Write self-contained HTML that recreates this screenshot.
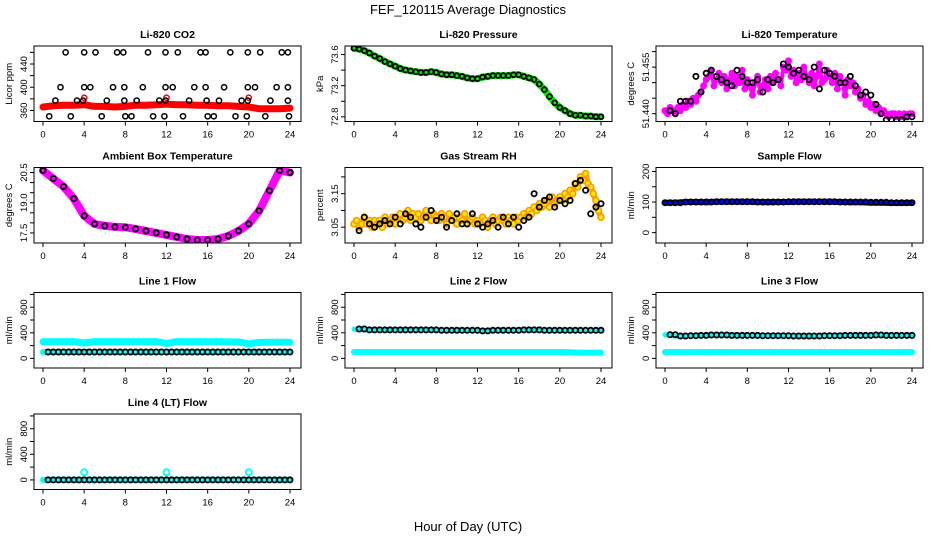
<!DOCTYPE html>
<html><head><meta charset="utf-8"><style>
html,body{margin:0;padding:0;background:#fff;}
svg{display:block;font-family:"Liberation Sans",Arial,sans-serif;}
</style></head><body>
<svg id="chart" width="936" height="540" viewBox="0 0 936 540" xmlns="http://www.w3.org/2000/svg">
<rect x="0" y="0" width="936" height="540" fill="#fff"/>
<text x="468" y="14" font-size="13" text-anchor="middle">FEF_120115  Average Diagnostics</text>
<text x="468" y="531" font-size="13" text-anchor="middle">Hour of Day (UTC)</text>
</svg>
<script>
// ---------- data ----------
const hourTicks = [0,4,8,12,16,20,24];

// Li-820 CO2
const co2Red = [366,368,369,369,370,367,367,366,367,369,369,370,371,370,370,369,369,368,368,367,366,363,363,363,364];
const co2SpikeHours = [4,12,20];
const co2SpikeVals = [382,382,382];
const co2BlackHours = [2.2,4.0,5.1,7.2,7.8,10.2,11.9,13.1,15.3,15.8,18.2,19.9,21.1,23.2,23.8,
  1.7,4.0,4.6,6.8,7.9,9.7,11.9,12.6,14.7,15.8,17.6,19.9,20.6,22.7,23.8,
  1.2,3.3,3.9,6.2,7.9,9.1,11.3,11.9,14.2,15.9,17.1,19.3,19.9,22.1,23.8,
  0.6,2.7,5.7,8.0,8.6,10.7,11.8,13.6,16.0,16.6,18.7,19.8,21.6,23.9];
const co2BlackVals = [460,460,460,460,460,460,460,460,460,460,460,460,460,460,460,
  400,400,400,400,400,400,400,400,400,400,400,400,400,400,400,
  377,377,377,377,377,377,377,377,377,377,377,377,377,377,377,
  350,350,350,350,350,350,350,350,350,350,350,350,350,350];

// Li-820 Pressure (0.5 h steps)
const pressure = [73.68,73.67,73.65,73.62,73.58,73.55,73.51,73.48,73.45,73.42,73.40,73.39,73.38,73.37,73.37,73.38,73.37,73.35,73.34,73.34,73.33,73.32,73.30,73.29,73.29,73.31,73.32,73.33,73.33,73.33,73.33,73.34,73.34,73.32,73.30,73.28,73.22,73.15,73.06,72.98,72.92,72.88,72.84,72.82,72.82,72.81,72.81,72.80,72.80];

// Li-820 Temperature (0.25 h steps)
const liTemp = [51.441,51.440,51.442,51.441,51.440,51.442,51.441,51.443,51.442,
 51.444,51.443,51.445,51.444,51.446,51.447,51.449,51.451,
 51.452,51.454,51.449,51.451,51.453,51.450,51.452,51.448,
 51.451,51.453,51.449,51.452,51.450,51.454,51.448,51.451,
 51.449,51.446,51.450,51.452,51.447,51.449,51.451,51.448,
 51.452,51.450,51.453,51.451,51.449,51.455,51.454,51.457,
 51.452,51.454,51.450,51.453,51.451,51.455,51.452,51.450,
 51.453,51.449,51.452,51.456,51.450,51.451,51.454,51.452,
 51.450,51.453,51.448,51.452,51.450,51.446,51.451,51.449,
 51.450,51.447,51.448,51.445,51.446,51.443,51.444,51.442,
 51.443,51.441,51.442,51.440,51.441,51.440,51.439,51.440,
 51.440,51.439,51.440,51.439,51.440,51.439,51.440,51.440];
const liTempBlack = [51.441,51.440,51.444,51.444,51.444,51.452,51.447,51.453,51.454,51.452,51.451,51.450,51.449,51.454,51.452,51.450,51.450,51.451,51.447,51.451,51.450,51.451,51.456,51.455,51.453,51.454,51.452,51.451,51.455,51.448,51.454,51.453,51.452,51.450,51.450,51.452,51.449,51.446,51.447,51.446,51.443,51.440,51.438,51.438,51.438,51.438,51.439,51.439];

// Ambient box temperature (hourly)
const ambient = [20.6,20.2,19.8,19.2,18.35,17.95,17.85,17.8,17.78,17.7,17.6,17.5,17.4,17.3,17.2,17.15,17.15,17.2,17.35,17.6,17.95,18.6,19.6,20.6,20.5];

// Gas stream RH (0.25 h steps)
const rh = [3.06,3.07,3.05,3.06,3.08,3.06,3.07,3.05,3.07,
 3.06,3.07,3.05,3.08,3.06,3.07,3.08,3.06,
 3.08,3.09,3.07,3.08,3.10,3.07,3.09,3.08,
 3.09,3.07,3.08,3.10,3.08,3.07,3.09,3.08,
 3.07,3.09,3.08,3.06,3.09,3.07,3.08,3.06,
 3.08,3.07,3.09,3.06,3.07,3.08,3.06,3.07,
 3.06,3.08,3.07,3.05,3.07,3.08,3.06,3.07,
 3.08,3.07,3.06,3.08,3.07,3.06,3.08,3.07,
 3.08,3.09,3.08,3.10,3.09,3.11,3.10,3.12,
 3.11,3.12,3.13,3.11,3.14,3.12,3.13,3.14,
 3.13,3.15,3.14,3.16,3.15,3.18,3.17,3.20,
 3.19,3.21,3.18,3.17,3.15,3.13,3.10,3.08];
const rhBlack = [3.04,3.08,3.06,3.05,3.06,3.07,3.06,3.08,3.06,3.09,3.08,3.06,3.05,3.08,3.10,3.07,3.08,3.05,3.07,3.09,3.06,3.06,3.09,3.06,3.05,3.06,3.07,3.05,3.08,3.06,3.08,3.05,3.07,3.08,3.15,3.11,3.13,3.14,3.11,3.13,3.12,3.13,3.18,3.19,3.16,3.09,3.11,3.12];

// Sample flow (hourly)
const sampleBlue = [98,98,100,100,99,101,101,101,101,100,99,100,100,101,101,101,101,100,99,99,98,98,97,97,98];
const sampleBlack = [98,98,100,100,100,101,101,101,101,100,100,100,101,101,101,101,101,100,100,100,99,99,98,98,98];

// Line flows (hourly)
const line1Cyan = [260,262,262,262,240,262,262,262,262,262,262,262,235,262,262,262,262,262,258,258,230,250,252,252,252];
const line1Black = [100,100,100,100,100,100,100,100,100,100,100,100,100,100,100,100,100,100,100,100,100,100,100,100,100];
const line2Cyan = [100,100,100,100,100,100,100,100,100,100,100,100,100,100,100,100,100,100,100,100,100,95,90,90,90];
const line2Black = [460,445,445,445,445,445,445,445,440,440,440,440,430,440,440,440,445,445,440,440,440,440,440,440,440];
const line3Cyan = [100,100,100,100,100,100,100,100,100,100,100,100,100,100,100,100,100,100,100,100,100,100,100,100,100];
const line3Black = [370,350,355,360,365,365,360,360,360,355,355,355,350,350,350,355,355,360,360,360,365,360,360,360,360];
const line4Cyan = [0,0,0,0,0,0,0,0,0,0,0,0,0,0,0,0,0,0,0,0,0,0,0,0,0];
const line4Black = [0,0,0,0,0,0,0,0,0,0,0,0,0,0,0,0,0,0,0,0,0,0,0,0,0];
const line4SpikeHours = [4,12,20];
const line4SpikeVals = [120,120,120];

// ---------- drawing ----------
const NS = "http://www.w3.org/2000/svg";
const svg = document.getElementById("chart");
const colLeft = [34,345,656], rowTop = [46,167.5,292.5,414];
const W = 267, H = 75.5;

function mk(tag, attrs, parent){
  const e = document.createElementNS(NS, tag);
  for (const k in attrs) e.setAttribute(k, attrs[k]);
  (parent||svg).appendChild(e);
  return e;
}

function panel(cfg){
  const L = colLeft[cfg.col], T = rowTop[cfg.row], B = T + H;
  const g = mk("g", {});
  
  
  const xs = h => L + 9 + h * (247/24);
  const ys = v => B - (v - cfg.ylim[0]) / (cfg.ylim[1] - cfg.ylim[0]) * H;
  const cid = "clip" + cfg.row + cfg.col;
  const cp = mk("clipPath", {id: cid}, g);
  mk("rect", {x: L, y: T, width: W, height: H}, cp);
  const plot = mk("g", {"clip-path": "url(#" + cid + ")"}, g);
  
  
  cfg.series.forEach(s => {
    const step = s.step;
    const hx = s.hours ? s.hours : s.vals.map((_, i) => (s.start || 0) + i * step);
    if (s.line) {
      const pts = s.vals.map((v, i) => xs(hx[i]).toFixed(1) + "," + ys(v).toFixed(1)).join(" ");
      const pl = mk("polyline", {points: pts, fill: "none", stroke: s.color, "stroke-width": s.line, "stroke-linejoin": "round", "stroke-linecap": "round"}, plot);
      
      
    }
    if (s.r) {
      s.vals.forEach((v, i) => {
        if (hx[i] > 24.05) return;
        const c = mk("circle", {cx: xs(hx[i]).toFixed(1), cy: ys(v).toFixed(1), r: s.r, fill: s.fill || "none", stroke: s.color, "stroke-width": s.sw || 1.5}, plot);
        
        
      });
    }
  });
  const box = mk("rect", {x: L, y: T, width: W, height: H, fill: "none", stroke: "#000", "stroke-width": 1}, g);
  
  
  const t = mk("text", {x: L + W/2, y: T - 8, "font-size": 10.5, "font-weight": "bold", "text-anchor": "middle"}, g);
  t.textContent = cfg.title;
  
  
  const xa = mk("g", {}, g);
  
  
  mk("line", {x1: xs(0), x2: xs(24), y1: B, y2: B, stroke: "#000"}, xa);
  hourTicks.forEach(h => {
    mk("line", {x1: xs(h), x2: xs(h), y1: B, y2: B + 4, stroke: "#000"}, xa);
    const tl = mk("text", {x: xs(h), y: B + 16, "font-size": 9.5, "text-anchor": "middle"}, xa);
    tl.textContent = h;
    
    
  });
  const ya = mk("g", {}, g);
  
  
  mk("line", {x1: L, x2: L, y1: ys(cfg.yticks[0]), y2: ys(cfg.yticks[cfg.yticks.length-1]), stroke: "#000"}, ya);
  cfg.yticks.forEach(v => {
    const y = ys(v);
    mk("line", {x1: L - 4, x2: L, y1: y, y2: y, stroke: "#000"}, ya);
  });
  cfg.ylabels.forEach(v => {
    const y = ys(v);
    const tl = mk("text", {x: L - 7, y: y, "font-size": 9.5, "text-anchor": "middle", transform: "rotate(-90 " + (L - 7) + " " + y + ")"}, ya);
    tl.textContent = cfg.fmt ? cfg.fmt(v) : v;
    
    
  });
  const yl = mk("text", {x: L - 22, y: T + H/2, "font-size": 9.5, "text-anchor": "middle", transform: "rotate(-90 " + (L - 22) + " " + (T + H/2) + ")"}, g);
  yl.textContent = cfg.ylab;
  
  
}

const flowTicks = [0,200,400,600,800,1000], flowLabels = [0,400,800], flowLim = [-150,1030];

panel({name:"co2-panel", title:"Li-820 CO2", ylab:"Licor ppm", row:0, col:0, ylim:[341,471],
  yticks:[360,380,400,420,440,460], ylabels:[360,400,440],
  series:[
    {name:"co2-red", vals:co2Red, step:1, color:"#ff0000", line:7},
    {name:"co2-red-spike", vals:co2SpikeVals, hours:co2SpikeHours, color:"#ff0000", r:2.6},
    {name:"co2-black", vals:co2BlackVals, hours:co2BlackHours, color:"#000", r:2.6}
  ]});

panel({name:"pressure-panel", title:"Li-820 Pressure", ylab:"kPa", row:0, col:1, ylim:[72.74,73.71],
  yticks:[72.8,73.0,73.2,73.4,73.6], ylabels:[72.8,73.2,73.6], fmt:v=>v.toFixed(1),
  series:[
    {name:"pressure-green", vals:pressure, step:0.5, color:"#00ee00", line:7},
    {name:"pressure-black", vals:pressure, step:0.5, color:"#000", r:2.4, sw:1.8}
  ]});

panel({name:"li-temp-panel", title:"Li-820 Temperature", ylab:"degrees C", row:0, col:2, ylim:[51.4375,51.4618],
  yticks:[51.440,51.445,51.450,51.455,51.460], ylabels:[51.440,51.455], fmt:v=>v.toFixed(3),
  series:[
    {name:"li-temp-magenta", vals:liTemp, step:0.25, color:"#ff00ff", r:2.6, sw:1.8},
    {name:"li-temp-magenta-band", vals:liTemp, step:0.25, color:"#ff00ff", line:4},
    {name:"li-temp-black", vals:liTempBlack, step:0.5, start:0.5, color:"#000", r:2.6, sw:1.8}
  ]});

panel({name:"ambient-temp-panel", title:"Ambient Box Temperature", ylab:"degrees C", row:1, col:0, ylim:[17.0,20.75],
  yticks:[17.5,18.0,18.5,19.0,19.5,20.0,20.5], ylabels:[17.5,19.0,20.5], fmt:v=>v.toFixed(1),
  series:[
    {name:"ambient-magenta", vals:ambient, step:1, color:"#ff00ff", line:8},
    {name:"ambient-black", vals:ambient, step:1, color:"#000", r:2.6, sw:1.8}
  ]});

panel({name:"rh-panel", title:"Gas Stream RH", ylab:"percent", row:1, col:1, ylim:[3.003,3.228],
  yticks:[3.05,3.10,3.15,3.20], ylabels:[3.05,3.15], fmt:v=>v.toFixed(2),
  series:[
    {name:"rh-orange", vals:rh, step:0.25, color:"#ffa500", line:6},
    {name:"rh-yellow", vals:rh, step:0.25, color:"#ff9900", fill:"#ffee00", r:3, sw:1.6},
    {name:"rh-black", vals:rhBlack, step:0.5, start:0.5, color:"#000", r:2.6, sw:1.8}
  ]});

panel({name:"sample-flow-panel", title:"Sample Flow", ylab:"ml/min", row:1, col:2, ylim:[-34,213],
  yticks:[0,50,100,150,200], ylabels:[0,100,200],
  series:[
    {name:"sample-blue", vals:sampleBlue, step:1, color:"#0000ff", line:6},
    {name:"sample-black", vals:sampleBlack, step:1, color:"#000", r:2.6, sw:1.8},
    {name:"sample-black-half", vals:sampleBlack, step:1, start:0.5, color:"#000", r:2.6, sw:1.8}
  ]});

panel({name:"line1-flow-panel", title:"Line 1 Flow", ylab:"ml/min", row:2, col:0, ylim:flowLim,
  yticks:flowTicks, ylabels:flowLabels,
  series:[
    {name:"line1-cyan", vals:line1Cyan, step:1, color:"#00ffff", line:7},
    {name:"line1-cyan-low", vals:line1Black, step:1, color:"#00ffff", line:6},
    {name:"line1-black", vals:line1Black, step:1, start:0.5, color:"#000", r:2.6, sw:1.8},
    {name:"line1-black-half", vals:line1Black, step:1, start:1, color:"#000", r:2.6, sw:1.8}
  ]});

panel({name:"line2-flow-panel", title:"Line 2 Flow", ylab:"ml/min", row:2, col:1, ylim:flowLim,
  yticks:flowTicks, ylabels:flowLabels,
  series:[
    {name:"line2-cyan", vals:line2Cyan, step:1, color:"#00ffff", line:6},
    {name:"line2-cyan-high", vals:line2Black, step:1, color:"#00ffff", line:5},
    {name:"line2-black", vals:line2Black, step:1, start:0.5, color:"#000", r:2.6, sw:1.8},
    {name:"line2-black-half", vals:line2Black, step:1, start:1, color:"#000", r:2.6, sw:1.8}
  ]});

panel({name:"line3-flow-panel", title:"Line 3 Flow", ylab:"ml/min", row:2, col:2, ylim:flowLim,
  yticks:flowTicks, ylabels:flowLabels,
  series:[
    {name:"line3-cyan", vals:line3Cyan, step:1, color:"#00ffff", line:6},
    {name:"line3-cyan-high", vals:line3Black, step:1, color:"#00ffff", line:5},
    {name:"line3-black", vals:line3Black, step:1, start:0.5, color:"#000", r:2.6, sw:1.8},
    {name:"line3-black-half", vals:line3Black, step:1, start:1, color:"#000", r:2.6, sw:1.8}
  ]});

panel({name:"line4-flow-panel", title:"Line 4 (LT) Flow", ylab:"ml/min", row:3, col:0, ylim:flowLim,
  yticks:flowTicks, ylabels:flowLabels,
  series:[
    {name:"line4-cyan", vals:line4Cyan, step:1, color:"#00ffff", line:6},
    {name:"line4-cyan-spike", vals:line4SpikeVals, hours:line4SpikeHours, color:"#00ffff", r:3, sw:2},
    {name:"line4-black", vals:line4Black, step:1, start:0.5, color:"#000", r:2.6, sw:1.8},
    {name:"line4-black-half", vals:line4Black, step:1, start:1, color:"#000", r:2.6, sw:1.8}
  ]});
</script>
</body></html>
